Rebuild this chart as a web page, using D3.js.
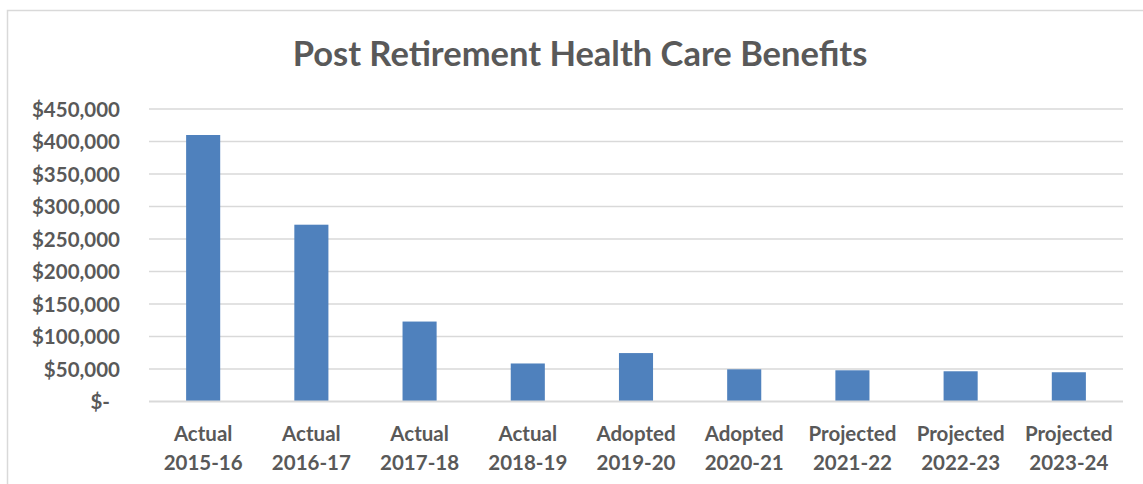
<!DOCTYPE html>
<html>
<head>
<meta charset="utf-8">
<script src="https://cdn.jsdelivr.net/npm/d3@7"></script>
<style>
  html, body { margin: 0; padding: 0; background: #fff; }
  svg { display: block; }
  text { font-family: Lato, "Open Sans", sans-serif; font-weight: 700; fill: #595959; }
</style>
</head>
<body>
<svg id="chart" width="1143" height="484"></svg>
<script>
// Post-retirement health care benefit costs by fiscal year
const categoryTypes = ["Actual", "Actual", "Actual", "Actual", "Adopted", "Adopted", "Projected", "Projected", "Projected"];
const fiscalYears = ["2015-16", "2016-17", "2017-18", "2018-19", "2019-20", "2020-21", "2021-22", "2022-23", "2023-24"];
const benefitCosts = [410000, 272000, 123000, 58500, 74500, 49500, 48000, 46500, 45000];
const yTicks = [0, 50000, 100000, 150000, 200000, 250000, 300000, 350000, 400000, 450000];

const svg = d3.select("#chart");
const margin = { left: 149, top: 109 };
const plotRight = 1123;
const plotBottom = 401.5;

// outer chart frame
svg.append("rect")
  .attr("x", 7.5).attr("y", 10.5)
  .attr("width", 1160).attr("height", 500)
  .attr("fill", "#fff").attr("stroke", "#D9D9D9").attr("stroke-width", 1.5);

const keys = fiscalYears.map((d, i) => i);
const x = d3.scaleBand().domain(keys).range([margin.left, plotRight]).paddingInner(0.685).paddingOuter(0.343);
const y = d3.scaleLinear().domain([0, 450000]).range([plotBottom, margin.top]);

// title
svg.append("text")
  .attr("x", 580).attr("y", 66)
  .attr("text-anchor", "middle")
  .style("font-size", "34.5px")
  .text("Post Retirement Health Care Benefits");

// gridlines
svg.append("g").selectAll("line")
  .data(yTicks.filter(t => t > 0))
  .join("line")
  .attr("x1", margin.left).attr("x2", plotRight)
  .attr("y1", d => y(d)).attr("y2", d => y(d))
  .attr("stroke", "#D9D9D9").attr("stroke-width", 1.5);

// y axis labels
const money = d3.format("$,");
const yAxis = d3.axisLeft(y).tickValues(yTicks).tickSize(0).tickPadding(0)
  .tickFormat(d => d === 0 ? "$-" : money(d));
const yg = svg.append("g").attr("transform", `translate(${margin.left - 29},0)`).call(yAxis);
yg.select(".domain").remove();
yg.selectAll("text")
  .style("font-size", "20.5px")
  .attr("dy", "0.35em")
  .attr("dx", d => d === 0 ? -10 : 0);

// bars
svg.append("g").selectAll("rect")
  .data(benefitCosts)
  .join("rect")
  .attr("x", (d, i) => x(i))
  .attr("width", x.bandwidth())
  .attr("y", d => y(d))
  .attr("height", d => y(0) - y(d))
  .attr("fill", "#4F81BD");

// baseline
svg.append("line")
  .attr("x1", margin.left).attr("x2", plotRight)
  .attr("y1", y(0)).attr("y2", y(0))
  .attr("stroke", "#D9D9D9").attr("stroke-width", 2);

// category labels (two lines)
const xg = svg.append("g");
const lab = xg.selectAll("text")
  .data(keys)
  .join("text")
  .attr("text-anchor", "middle")
  .style("font-size", "20.5px")
  .attr("transform", d => `translate(${x(d) + x.bandwidth() / 2},441)`);
lab.append("tspan").attr("x", 0).attr("y", 0).text(d => categoryTypes[d]);
lab.append("tspan").attr("x", 0).attr("y", 29).text(d => fiscalYears[d]);
</script>
</body>
</html>
